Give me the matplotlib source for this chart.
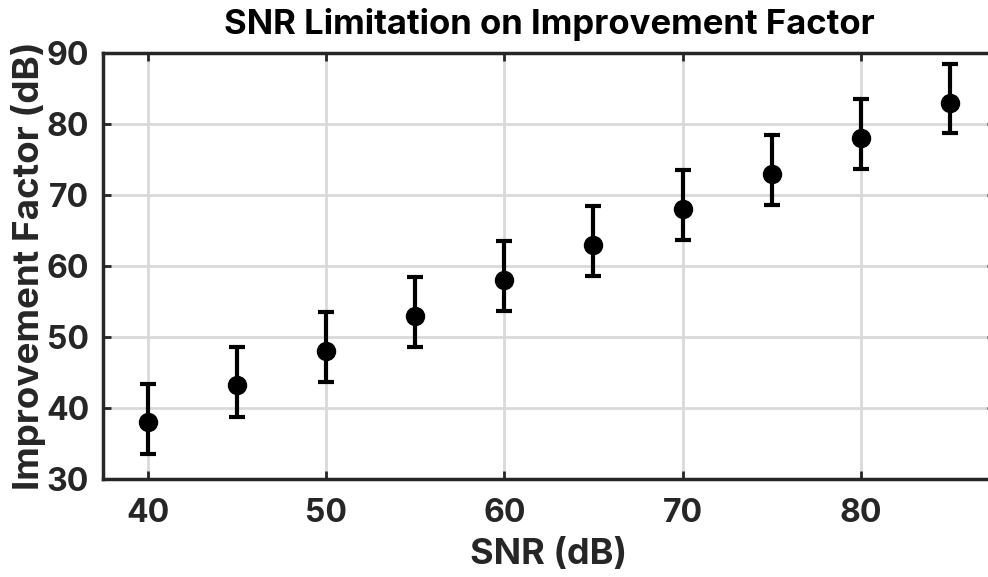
import matplotlib
matplotlib.use('Agg')
import matplotlib.pyplot as plt

# data
snr = [40, 45, 50, 55, 60, 65, 70, 75, 80, 85]
imp = [38, 43.2, 48, 53, 58, 63, 68, 73, 78, 83]
err_low = [4.5, 4.5, 4.4, 4.4, 4.4, 4.4, 4.4, 4.4, 4.3, 4.3]
err_high = [5.4, 5.4, 5.5, 5.5, 5.5, 5.5, 5.5, 5.5, 5.5, 5.5]
xticks = [40, 50, 60, 70, 80]
yticks = [30, 40, 50, 60, 70, 80, 90]

plt.rcParams['font.family'] = ['Inter', 'Liberation Sans', 'DejaVu Sans']
plt.rcParams['font.weight'] = 'bold'

fig = plt.figure(figsize=(9.88, 5.77), dpi=100)
ax = fig.add_axes([0.1043, 0.1698, 0.9025, 0.7383])

ax.errorbar(snr, imp, yerr=[err_low, err_high], fmt='o', color='black',
            markersize=13, elinewidth=3, capsize=6, capthick=3, zorder=3)

ax.set_xlim(37.5, 87.5)
ax.set_ylim(30, 90)
ax.set_xticks(xticks)
ax.set_yticks(yticks)
ax.grid(True, color='#d9d9d9', linewidth=2)
ax.set_axisbelow(True)
ax.tick_params(direction='in', length=6, width=2, labelsize=23, colors='#262626',
               top=True, right=True)
ax.tick_params(axis='x', pad=14)
ax.tick_params(axis='y', pad=10)
for s in ax.spines.values():
    s.set_linewidth(2.5)
    s.set_color('#262626')

ax.set_title('SNR Limitation on Improvement Factor', fontsize=25, fontweight='bold', pad=14)
ax.set_xlabel('SNR (dB)', fontsize=26, fontweight='bold', color='#262626', labelpad=6)
ax.set_ylabel('Improvement Factor (dB)', fontsize=26.5, fontweight='bold', color='#262626', labelpad=0)

fig.savefig('out.png', dpi=100)
